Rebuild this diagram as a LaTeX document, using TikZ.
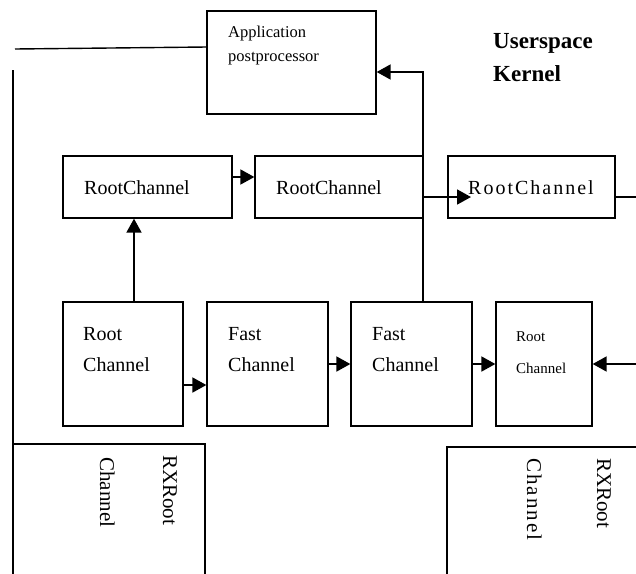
\documentclass[tikz,border=0pt]{standalone}
\usepackage{fontspec}
\setmainfont{Liberation Serif}
\usetikzlibrary{arrows.meta}
\tikzset{
  box/.style={draw, line width=1.3pt, rectangle, inner sep=0pt},
  conn/.style={line width=1.8pt},
  arr/.style={line width=1.8pt, -{Triangle[length=14pt,width=15pt]}},
  txt/.style={inner sep=0pt, anchor=base west, font=\fontsize{20}{24}\selectfont},
  smalltxt/.style={inner sep=0pt, anchor=base west, font=\fontsize{15}{18}\selectfont},
  apptxt/.style={inner sep=0pt, anchor=base west, font=\fontsize{16.5}{20}\selectfont},
  headtxt/.style={inner sep=0pt, anchor=base west, font=\fontsize{23}{27}\selectfont\bfseries},
  rottxt/.style={inner sep=0pt, anchor=base west, rotate=-90, font=\fontsize{21}{25}\selectfont},
}
\begin{document}
\begin{tikzpicture}[x=1pt,y=-1pt]
\useasboundingbox (0,0) rectangle (636,573);
\clip (0,0) rectangle (636,573);

% boxes
\node[box, minimum width=169pt, minimum height=103pt] (app) at (291.5,62.5) {};
\node[box, minimum width=169pt, minimum height=62pt] (rc1) at (147.5,187) {};
\node[box, minimum width=168pt, minimum height=62pt] (rc2) at (339,187) {};
\node[box, minimum width=167pt, minimum height=62pt] (rc3) at (531.5,187) {};
\node[box, minimum width=120pt, minimum height=124pt] (r2a) at (123,364) {};
\node[box, minimum width=121pt, minimum height=124pt] (fc1) at (267.5,364) {};
\node[box, minimum width=121pt, minimum height=124pt] (fc2) at (411.5,364) {};
\node[box, minimum width=96pt, minimum height=124pt] (r2d) at (544,364) {};
\node[box, minimum width=192pt, minimum height=180pt] (rxl) at (109,534) {};
\node[box, minimum width=200pt, minimum height=180pt] (rxr) at (547,537) {};

% texts
\node[apptxt] (t-app1) at (228,37) {Application};
\node[apptxt] (t-app2) at (228,61) {postprocessor};
\node[headtxt] (t-user) at (493,48) {Userspace};
\node[headtxt] (t-kern) at (493,81) {Kernel};
\node[txt] (t-rc1) at (84,194) {RootChannel};
\node[txt] (t-rc2) at (276,194) {RootChannel};
\node[txt, font=\fontsize{20}{24}\selectfont\addfontfeature{LetterSpace=10}] (t-rc3) at (468,194) {RootChannel};
\node[txt] (t-a1) at (83,340) {Root};
\node[txt] (t-a2) at (83,371) {Channel};
\node[txt] (t-b1) at (228,340) {Fast};
\node[txt] (t-b2) at (228,371) {Channel};
\node[txt] (t-c1) at (372,340) {Fast};
\node[txt] (t-c2) at (372,371) {Channel};
\node[smalltxt] (t-d1) at (516,341) {Root};
\node[smalltxt] (t-d2) at (516,373) {Channel};
\node[rottxt] (t-l1) at (163,455) {RXRoot};
\node[rottxt] (t-l2) at (100,457) {Channel};
\node[rottxt] (t-r1) at (597,458) {RXRoot};
\node[rottxt, font=\fontsize{21}{25}\selectfont\addfontfeature{LetterSpace=10}] (t-r2) at (527,458) {Channel};

% coordinates for free ends / bends
\coordinate (lstart) at (15,49);
\coordinate (lend) at (207,47);
\coordinate (vtop) at (13,70);
\coordinate (bend) at (423,72);
\coordinate (junc) at (423,197);
\coordinate (tip3) at (471,197);
\coordinate (redge) at (636,197);
\coordinate (redge2) at (636,364);

% connectors
\draw[conn, line width=1.4pt] (lstart) -- (lend);
\draw[conn, line width=1.4pt] (vtop) -- (vtop |- rxl.south);
\draw[arr] (fc2.north -| bend) -- (bend) -- (app.east |- bend);
\draw[arr] (junc) -- (tip3);
\draw[conn, line width=1.4pt] (rc3.east |- redge) -- (redge);
\draw[arr] ([yshift=10pt]rc1.east) -- ([yshift=10pt]rc2.west);
\draw[arr] ([xshift=11pt]r2a.north) -- ([xshift=11pt]r2a.north |- rc1.south);
\draw[arr] ([yshift=-21pt]r2a.east) -- ([yshift=-21pt]fc1.west);
\draw[arr] (fc1.east) -- (fc2.west);
\draw[arr] (fc2.east) -- (r2d.west);
\draw[arr] (redge2) -- (r2d.east);
\end{tikzpicture}
\end{document}
